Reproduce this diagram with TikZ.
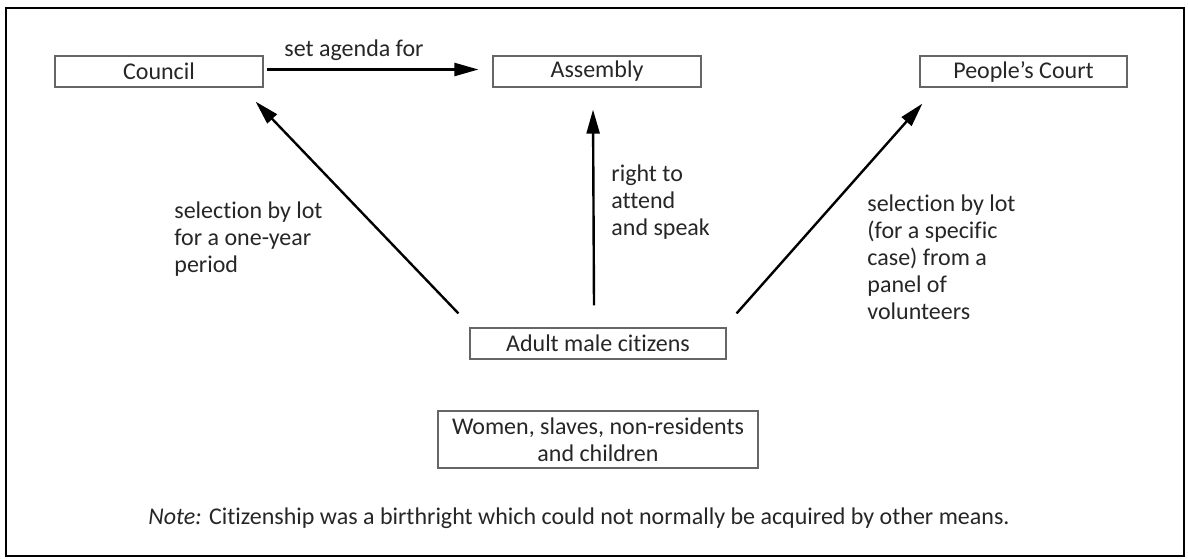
\documentclass[tikz,border=0pt]{standalone}
\usepackage{fontspec}
\setmainfont{Carlito}[Ligatures=NoCommon]
\usetikzlibrary{arrows.meta,calc}
\begin{document}
\begin{tikzpicture}[x=0.5pt,y=-0.5pt,
  box/.style={draw=black!60,line width=0.6pt,inner sep=0pt,font=\fontsize{12}{13.5}\selectfont,text=black!85},
  lbl/.style={inner sep=0pt,align=left,font=\fontsize{12}{13.5}\selectfont,text=black!85},
  arr/.style={line width=1.2pt,-{Triangle[length=12pt,width=6.5pt]}}]
\useasboundingbox (0,0) rectangle (1188,558);
\node[draw=black,line width=0.6pt,minimum width=1178*0.5pt,minimum height=548*0.5pt,inner sep=0pt] (frame) at (595,282) {};
\node[box,minimum width=104pt,minimum height=15.5pt] (council) at (159,71.5) {Council};
\node[box,minimum width=104pt,minimum height=15.5pt] (assembly) at (597,71.5) {Assembly};
\node[box,minimum width=103.5pt,minimum height=15.5pt] (court) at (1023.5,71.5) {People’s Court};
\node[box,minimum width=128pt,minimum height=15.5pt] (adult) at (598,343.5) {Adult male citizens};
\node[box,minimum width=160pt,minimum height=28.5pt,align=center] (women) at (598,439.5) {Women, slaves, non-residents\\and children};
\coordinate (cs) at ($(council.east)+(3,-2)$);
\coordinate (ce) at ($(assembly.west)+(-14,-2)$);
\coordinate (l1) at ($(adult.north west)+(-11,-14)$);
\coordinate (l2) at ($(council.south east)+(-8,14)$);
\coordinate (m1) at ($(adult.north)+(-4,-22)$);
\coordinate (m2) at ($(assembly.south)+(-4,22)$);
\coordinate (r1) at ($(adult.north east)+(10,-14)$);
\coordinate (r2) at ($(court.south west)+(3,16)$);
\draw[arr] (cs) -- (ce);
\draw[arr] (l1) -- (l2);
\draw[arr] (m1) -- (m2);
\draw[arr] (r1) -- (r2);
\node[lbl] (t0) at (354,50) {set agenda for};
\node[lbl,anchor=west] (t1) at (174,239) {selection by lot\\for a one-year\\period};
\node[lbl,anchor=west] (t2) at (611,202) {right to\\attend\\and speak};
\node[lbl,anchor=west] (t3) at (867,257) {selection by lot\\(for a specific\\case) from a\\panel of\\volunteers};
\node[lbl,anchor=west] (note) at (148,518) {\textit{Note:} Citizenship was a birthright which could not normally be acquired by other means.};
\end{tikzpicture}
\end{document}
